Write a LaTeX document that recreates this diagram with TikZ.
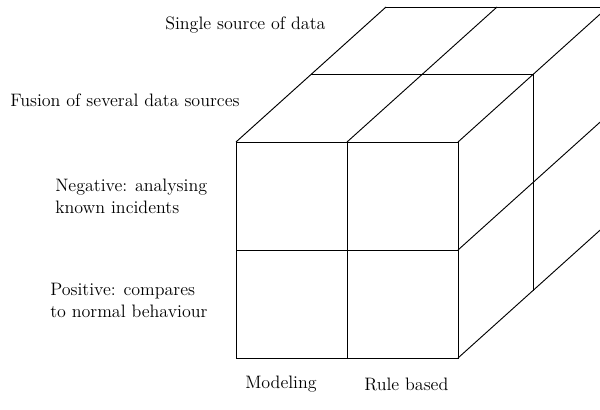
\documentclass[tikz,border=0pt]{standalone}
\begin{document}
\begin{tikzpicture}[x=0.75pt,y=-0.75pt,
  edge/.style={line width=0.7pt, black},
  lbl/.style={inner sep=0pt, anchor=west, align=left, font=\fontsize{13.5}{16.5}\selectfont}]
\useasboundingbox (0,0) rectangle (600,410);
% corner coordinates of the front face
\coordinate (f00) at (236,142);
\coordinate (f10) at (347,142);
\coordinate (f20) at (458,142);
\coordinate (f01) at (236,250);
\coordinate (f21) at (458,250);
\coordinate (f02) at (236,358);
\coordinate (f12) at (347,358);
\coordinate (f22) at (458,358);
% half depth and full depth
\coordinate (m00) at (311,74.5);
\coordinate (m20) at (533,74.5);
\coordinate (m22) at (533,290.5);
\coordinate (b00) at (386,7);
\coordinate (b10) at (497,7);
\coordinate (b20) at (608,7);
\coordinate (b21) at (608,115);
\coordinate (b22) at (608,223);
\begin{scope}
\clip (0,0) rectangle (600,410);
\draw[edge] (f00) rectangle (f22);
\draw[edge] (f10) -- (f12);
\draw[edge] (f01) -- (f21);
\draw[edge] (f00) -- (b00);
\draw[edge] (f10) -- (b10);
\draw[edge] (f20) -- (b20);
\draw[edge] (m00) -- (m20);
\draw[edge] (b00) -- (b20);
\draw[edge] (f21) -- (b21);
\draw[edge] (f22) -- (b22);
\draw[edge] (m20) -- (m22);
\draw[edge] (b20) -- (b22);
\end{scope}
\node[lbl] (single) at (165,25) {Single source of data};
\node[lbl] (fusion) at (10,100) {Fusion of several data sources};
\node[lbl] (neg) at (55,196) {Negative: analysing\\known incidents};
\node[lbl] (pos) at (50,300) {Positive: compares\\to normal behaviour};
\node[lbl] (model) at (245,384) {Modeling};
\node[lbl] (rule) at (364,384) {Rule based};
\end{tikzpicture}
\end{document}
